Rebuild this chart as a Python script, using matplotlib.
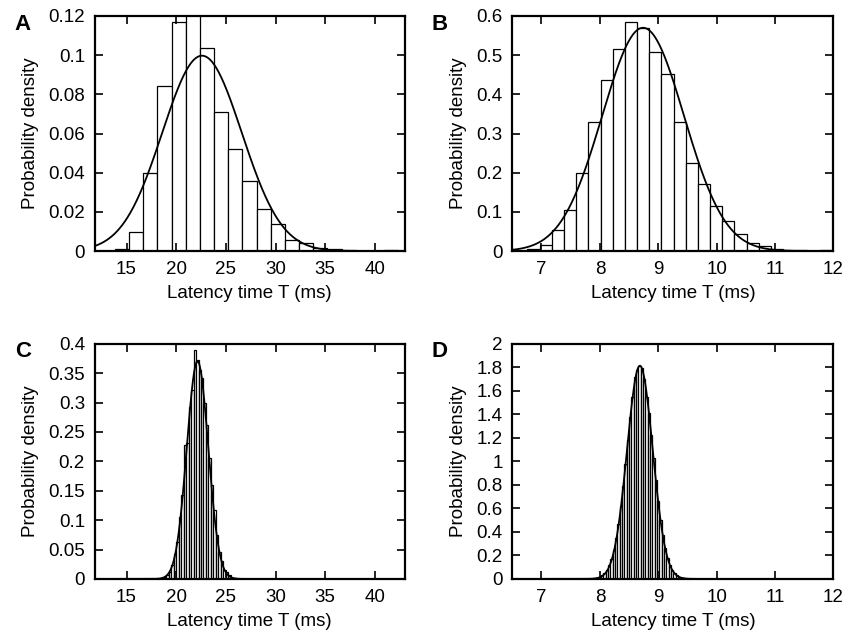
import numpy as np
import matplotlib
matplotlib.use("Agg")
import matplotlib.pyplot as plt
from matplotlib.ticker import FormatStrFormatter

plt.rcParams['font.family'] = ['Liberation Sans', 'DejaVu Sans']

# panel A: wide histogram, coarse bins
a_edge0, a_width = 13.83, 1.426
a_heights = [0.001, 0.0097, 0.040, 0.0844, 0.117, 0.125, 0.1038, 0.0708, 0.0523, 0.0359,
             0.0214, 0.0137, 0.0058, 0.0039, 0.0017, 0.001, 0.0005, 0.0003, 0.0002, 0.0005]
a_mean, a_sd = 22.6, 4.0

# panel B
b_edge0, b_width = 6.76, 0.2085
b_heights = [0.005, 0.0145, 0.053, 0.105, 0.20, 0.329, 0.4375, 0.516, 0.585, 0.570,
             0.507, 0.451, 0.330, 0.224, 0.172, 0.114, 0.0756, 0.0425, 0.020, 0.012,
             0.006, 0.004, 0.0025, 0.0005, 0.002]
b_mean, b_sd = 8.74, 0.70

# panel C: narrow histogram, fine bins
c_edge0, c_width = 18.5, 0.25
c_heights = [0.002, 0.004, 0.006, 0.012, 0.024, 0.043, 0.062, 0.105, 0.142, 0.228,
             0.232, 0.293, 0.322, 0.39, 0.372, 0.355, 0.342, 0.30, 0.262, 0.205,
             0.16, 0.118, 0.075, 0.045, 0.03, 0.016, 0.012, 0.006, 0.002, 0.001]
c_mean, c_sd = 22.15, 1.078

# panel D
d_edge0, d_width = 7.90, 0.04
d_heights = [0.005, 0.010, 0.018, 0.03, 0.05, 0.08, 0.12, 0.17, 0.25, 0.35,
             0.47, 0.62, 0.79, 0.98, 1.18, 1.38, 1.55, 1.72, 1.78, 1.81,
             1.79, 1.70, 1.55, 1.41, 1.22, 1.03, 0.84, 0.66, 0.50, 0.37,
             0.26, 0.18, 0.12, 0.08, 0.05, 0.03, 0.017, 0.010, 0.005, 0.003]
d_mean, d_sd = 8.685, 0.22

xlim_ms = (11.8, 43.0)
xlim_b = (6.5, 12.0)

panels = [
    ("A", a_edge0, a_width, a_heights, a_mean, a_sd, xlim_ms, 0.12, 0.02, np.arange(15, 41, 5)),
    ("B", b_edge0, b_width, b_heights, b_mean, b_sd, xlim_b, 0.6, 0.1, np.arange(7, 13, 1)),
    ("C", c_edge0, c_width, c_heights, c_mean, c_sd, xlim_ms, 0.4, 0.05, np.arange(15, 41, 5)),
    ("D", d_edge0, d_width, d_heights, d_mean, d_sd, xlim_b, 2.0, 0.2, np.arange(7, 13, 1)),
]
rects = [[0.110, 0.607, 0.360, 0.368],
         [0.595, 0.607, 0.373, 0.368],
         [0.110, 0.094, 0.360, 0.368],
         [0.595, 0.094, 0.373, 0.368]]
letter_pos = [(0.017, 0.953), (0.501, 0.953), (0.017, 0.441), (0.501, 0.441)]

fig = plt.figure(figsize=(8.61, 6.39), dpi=100)

for (name, e0, w, h, mu, sd, xl, ymax, ystep, xt), r, lp in zip(panels, rects, letter_pos):
    ax = fig.add_axes(r)
    left = e0 + w * np.arange(len(h))
    ax.bar(left, h, width=w, align='edge', color='white', edgecolor='black', linewidth=0.9)
    xs = np.linspace(xl[0], xl[1], 600)
    ax.plot(xs, np.exp(-(xs - mu) ** 2 / (2 * sd ** 2)) / (sd * np.sqrt(2 * np.pi)),
            color='black', linewidth=1.3)
    ax.set_xlim(xl)
    ax.set_ylim(0, ymax)
    ax.set_xticks(xt)
    ax.set_yticks(np.arange(0, ymax + ystep / 2, ystep))
    ax.yaxis.set_major_formatter(FormatStrFormatter('%g'))
    ax.tick_params(direction='in', top=True, right=True, length=6, width=1.2, labelsize=13.5, pad=7)
    for s in ax.spines.values():
        s.set_linewidth(1.6)
    ax.set_xlabel("Latency time T (ms)", fontsize=13.5, labelpad=5)
    ax.set_ylabel("Probability density", fontsize=13.5, labelpad=7)
    fig.text(lp[0], lp[1], name, fontsize=16, fontweight='bold', va='baseline')

fig.savefig("out.png", dpi=100)
